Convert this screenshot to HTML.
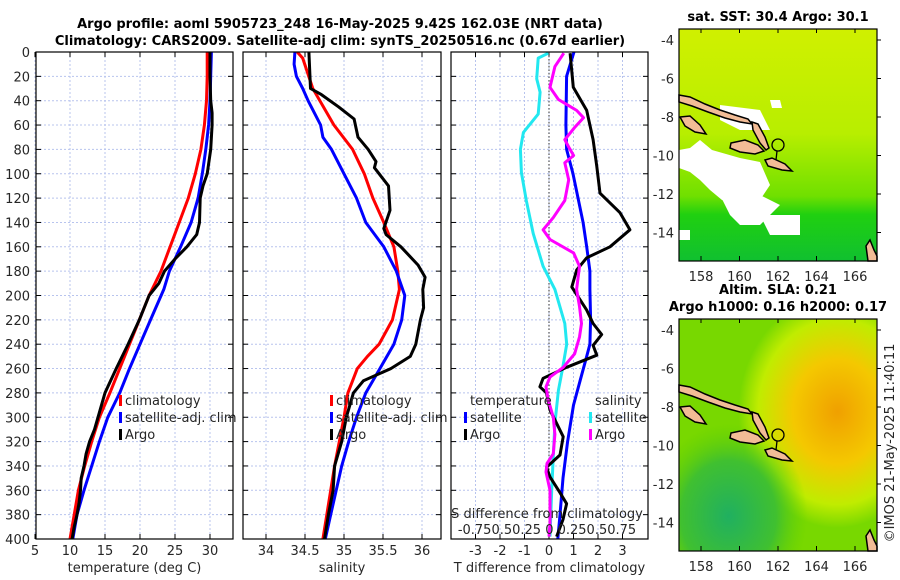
<!DOCTYPE html>
<html><head><meta charset="utf-8">
<style>
body{margin:0;background:#fff;}
svg{display:block;font-family:"DejaVu Sans","Liberation Sans",sans-serif;}
.tk{font-size:13px;fill:#262626;}
.ttl{font-size:13px;font-weight:bold;fill:#000;}
.lg{font-size:13px;fill:#262626;}
</style></head>
<body>
<svg id="fig" width="900" height="580" viewBox="0 0 900 580" xmlns="http://www.w3.org/2000/svg">
<defs>
  <linearGradient id="sstg" x1="0" y1="0" x2="0" y2="1">
    <stop offset="0" stop-color="#d0f000"/>
    <stop offset="0.45" stop-color="#b8ee00"/>
    <stop offset="0.72" stop-color="#70e000"/>
    <stop offset="0.8" stop-color="#20d010"/>
    <stop offset="1" stop-color="#10c030"/>
  </linearGradient>
  <radialGradient id="slao" cx="0.8" cy="0.4" r="0.5">
    <stop offset="0" stop-color="#f0a000"/>
    <stop offset="0.45" stop-color="#f4c800"/>
    <stop offset="0.8" stop-color="#c0ec00"/>
    <stop offset="1" stop-color="#c0ec00" stop-opacity="0"/>
  </radialGradient>
  <radialGradient id="slag" cx="0.25" cy="0.85" r="0.4">
    <stop offset="0" stop-color="#20b060"/>
    <stop offset="0.6" stop-color="#40c030"/>
    <stop offset="1" stop-color="#60d000" stop-opacity="0"/>
  </radialGradient>
  <clipPath id="c1"><rect x="36" y="52" width="197" height="487"/></clipPath>
  <clipPath id="c2"><rect x="243" y="52" width="198" height="487"/></clipPath>
  <clipPath id="c3"><rect x="451" y="52" width="197" height="487"/></clipPath>
</defs>
<text class="ttl" x="340" y="28" text-anchor="middle">Argo profile: aoml 5905723_248 16-May-2025 9.42S 162.03E (NRT data)</text>
<text class="ttl" x="340" y="45" text-anchor="middle">Climatology: CARS2009. Satellite-adj clim: synTS_20250516.nc (0.67d earlier)</text>
<g id="panels"></g>
<g id="maps"></g>
<text class="tk" x="0" y="0" transform="translate(894,443) rotate(-90)" text-anchor="middle">©IMOS 21-May-2025 11:40:11</text>
</svg>
<script>
// ---- data ----
const tDepth = [0,20,40,60,80,100,120,140,160,180,200,220,240,260,280,300,320,340,360,380,400];
const tClim  = [29.6,29.6,29.5,29.2,28.7,27.9,26.9,25.6,24.3,23.0,21.3,19.9,18.5,17.1,15.7,14.2,13.1,12.1,11.2,10.6,10.0];
const tSatD  = [0,20,40,60,80,100,120,140,160,180,195,220,240,260,280,300,320,340,360,380,400];
const tSat   = [30.2,30.1,30.0,29.8,29.4,28.9,28.3,27.3,25.8,24.2,23.4,21.5,20.0,18.5,17.1,15.4,14.2,13.1,12.0,11.0,10.4];
const tArgoD = [0,20,40,50,60,80,100,110,120,140,150,160,170,180,190,200,220,240,260,270,280,290,300,310,320,330,340,350,360,370,380,390,400];
const tArgo  = [30.0,30.0,30.1,30.3,30.3,30.1,29.6,29.0,28.6,28.5,28.1,26.7,25.0,23.5,22.7,21.3,19.9,18.3,16.6,15.8,15.0,14.5,14.0,13.5,12.8,12.3,12.0,11.6,11.5,11.3,11.0,10.6,10.3];

const sClimD = [0,5,30,60,80,100,120,140,160,180,195,220,240,250,260,280,300,320,340,360,380,400];
const sClim  = [34.40,34.47,34.60,34.87,35.11,35.26,35.37,35.51,35.64,35.69,35.71,35.62,35.45,35.30,35.17,35.05,35.00,34.94,34.88,34.83,34.78,34.73];
const sSatD  = [0,10,20,30,40,50,60,70,80,100,120,140,160,180,200,220,240,260,280,300,320,340,360,380,400];
const sSat   = [34.37,34.36,34.39,34.47,34.54,34.62,34.70,34.73,34.84,35.00,35.16,35.28,35.51,35.67,35.78,35.74,35.64,35.46,35.28,35.16,35.06,34.97,34.90,34.83,34.76];
const sArgoD = [0,30,35,45,55,70,80,90,95,110,130,145,150,160,175,185,195,210,220,240,250,260,270,280,300,320,340,360,380,400];
const sArgo  = [34.55,34.57,34.71,34.93,35.13,35.18,35.31,35.41,35.39,35.57,35.59,35.51,35.54,35.73,35.95,36.04,36.01,36.02,35.98,35.92,35.85,35.60,35.25,35.12,35.03,34.97,34.88,34.86,34.80,34.75];

const dtSatD = [0,20,60,80,100,140,160,180,195,219,240,250,270,290,320,350,380,400];
const dtSat  = [1.02,0.72,0.69,0.72,0.98,1.39,1.54,1.67,1.67,1.70,1.67,1.54,1.27,1.0,0.76,0.57,0.45,0.36];
const dtArgoD = [1,29,48,72,94,116,132,146,160,169,179,193,212,223,232,241,249,259,268,275,280,294,316,331,341,349,362,371,384,398];
const dtArgo  = [0.86,0.99,1.54,1.8,1.95,2.08,2.9,3.3,2.49,1.54,1.13,0.93,1.54,1.8,2.15,1.8,1.95,0.72,-0.24,-0.37,-0.1,0.04,0.58,0.45,-0.1,0.04,0.45,0.72,0.57,0.31];
const dsSatD = [1,5,22,33,51,66,80,99,122,149,176,195,223,240,259,278,305,332,360,398];
const dsSat  = [-0.007,-0.11,-0.125,-0.09,-0.11,-0.26,-0.29,-0.28,-0.23,-0.16,-0.06,0.06,0.16,0.18,0.14,0.095,0.06,0.044,0.027,0.01];
const dsArgoD = [1,12,29,39,43,48,54,62,72,78,85,91,105,122,136,146,154,165,176,195,209,223,234,248,259,267,275,286,300,314,330,338,345,360,387,398];
const dsArgo  = [0.15,0.06,0.01,0.095,0.18,0.28,0.35,0.26,0.16,0.2,0.25,0.16,0.2,0.16,0.044,-0.06,0.01,0.25,0.31,0.28,0.31,0.33,0.31,0.26,0.145,0.01,-0.03,-0.007,0.044,0.06,0.044,-0.02,-0.03,0.01,0.01,0.0];

const depthTicks = [0,20,40,60,80,100,120,140,160,180,200,220,240,260,280,300,320,340,360,380,400];
const tTicks = [5,10,15,20,25,30];
const sTicks = [34,34.5,35,35.5,36];
const dtTicks = [-3,-2,-1,0,1,2,3];
const dsTickLabel = "-0.750.50.25 0 0.250.50.75";
const lonTicks = [158,160,162,164,166];
const latTicks = [-4,-6,-8,-10,-12,-14];

// ---- axes ----
const Y = d => 52 + d*1.2175;
const XT = t => 35 + (t-5)*7;
const XS = s => 266 + (s-34)*78;
const XDT = t => 549 + t*24.5;
const XDS = s => 549 + s*98.5;
const LON = l => 701 + (l-158)*19.25;
const LAT = (a, top) => top + 11 + (-4 - a)*19.25;

const NS = "http://www.w3.org/2000/svg";
function mk(tag, attrs, parent){ const e=document.createElementNS(NS,tag); for(const k in attrs) e.setAttribute(k,attrs[k]); parent.appendChild(e); return e; }
const panelsG = document.getElementById('panels');

function line(depths, vals, xf, color, parent, name){
  const pts = depths.map((d,i)=> xf(vals[i]).toFixed(1)+','+Y(d).toFixed(1)).join(' ');
  const p = mk('polyline',{points:pts,fill:'none',stroke:color,'stroke-width':3,'stroke-linejoin':'round'},parent);
  
  
}

function panel(x0, w, clip, name, ticks, xf, tickLabels, xlabel){
  const g = mk('g',{},panelsG);
  
  
  mk('rect',{x:x0,y:52,width:w,height:487,fill:'#fff'},g);
  ticks.forEach(t=>{ mk('line',{x1:xf(t),x2:xf(t),y1:52,y2:539,stroke:'#b8c4ee','stroke-width':1,'stroke-dasharray':'2,2'},g); });
  depthTicks.forEach(d=>{ mk('line',{x1:x0,x2:x0+w,y1:Y(d),y2:Y(d),stroke:'#b8c4ee','stroke-width':1,'stroke-dasharray':'2,2'},g);
    mk('line',{x1:x0,x2:x0+5,y1:Y(d),y2:Y(d),stroke:'#000'},g);
    mk('line',{x1:x0+w-5,x2:x0+w,y1:Y(d),y2:Y(d),stroke:'#000'},g); });
  ticks.forEach((t,i)=>{ mk('line',{x1:xf(t),x2:xf(t),y1:52,y2:57,stroke:'#000'},g); mk('line',{x1:xf(t),x2:xf(t),y1:534,y2:539,stroke:'#000'},g);
    const tx = mk('text',{x:xf(t),y:555,'text-anchor':'middle',class:'tk'},g); tx.textContent = tickLabels[i];
    
     });
  const xl = mk('text',{x:x0+w/2,y:572,'text-anchor':'middle',class:'tk'},g); xl.textContent = xlabel;
  
  
  return g;
}
function frame(x0,w,g){ mk('rect',{x:x0,y:52,width:w,height:487,fill:'none',stroke:'#000','stroke-width':1.2},g); }
function legend(g, x, y, color, label, name){
  mk('rect',{x:x,y:y-10,width:3,height:11,fill:color},g);
  const t = mk('text',{x:x+6,y:y,class:'lg'},g); t.textContent = label;
  
  
}

// panel 1
let g1 = panel(36,197,'c1','temperature-panel',tTicks,XT,tTicks.map(String),'temperature (deg C)');
depthTicks.forEach(d=>{ const t=mk('text',{x:30,y:Y(d)+5,'text-anchor':'end',class:'tk'},g1); t.textContent=d;
  
   });
let lg1 = mk('g',{'clip-path':'url(#c1)'},g1);
line(tDepth,tClim,XT,'#ff0000',lg1,'temp-climatology-line');
line(tSatD,tSat,XT,'#0000ff',lg1,'temp-satellite-line');
line(tArgoD,tArgo,XT,'#000',lg1,'temp-argo-line');
legend(g1,119,405,'#ff0000','climatology','legend-climatology');
legend(g1,119,422,'#0000ff','satellite-adj. clim','legend-satellite');
legend(g1,119,439,'#000','Argo','legend-argo');
frame(36,197,g1);

// panel 2
let g2 = panel(243,198,'c2','salinity-panel',sTicks,XS,['34','34.5','35','35.5','36'],'salinity');
let lg2 = mk('g',{'clip-path':'url(#c2)'},g2);
line(sClimD,sClim,XS,'#ff0000',lg2,'sal-climatology-line');
line(sSatD,sSat,XS,'#0000ff',lg2,'sal-satellite-line');
line(sArgoD,sArgo,XS,'#000',lg2,'sal-argo-line');
legend(g2,330,405,'#ff0000','climatology','legend-climatology');
legend(g2,330,422,'#0000ff','satellite-adj. clim','legend-satellite');
legend(g2,330,439,'#000','Argo','legend-argo');
frame(243,198,g2);

// panel 3
let g3 = panel(451,197,'c3','difference-panel',dtTicks,XDT,dtTicks.map(String),'T difference from climatology');
mk('line',{x1:549,x2:549,y1:52,y2:539,stroke:'#555','stroke-width':1.2,'stroke-dasharray':'1.5,2'},g3);
let lg3 = mk('g',{'clip-path':'url(#c3)'},g3);
line(dsSatD,dsSat,XDS,'#22e8f0',lg3,'sdiff-satellite-line');
line(dtSatD,dtSat,XDT,'#0000ff',lg3,'tdiff-satellite-line');
line(dtArgoD,dtArgo,XDT,'#000',lg3,'tdiff-argo-line');
line(dsArgoD,dsArgo,XDS,'#ff00ff',lg3,'sdiff-argo-line');
let tt = mk('text',{x:470,y:405,class:'lg'},g3); tt.textContent='temperature';


let st = mk('text',{x:595,y:405,class:'lg'},g3); st.textContent='salinity';


legend(g3,464,422,'#0000ff','satellite','legend-t-satellite');
legend(g3,464,439,'#000','Argo','legend-t-argo');
legend(g3,589,422,'#22e8f0','satellite','legend-s-satellite');
legend(g3,589,439,'#ff00ff','Argo','legend-s-argo');
let sd = mk('text',{x:547,y:518,'text-anchor':'middle',class:'lg'},g3); sd.textContent='S difference from climatology';


let sl = mk('text',{x:547,y:534,'text-anchor':'middle',class:'lg'},g3); sl.textContent=dsTickLabel;


frame(451,197,g3);

// ---- maps ----
const mapsG = document.getElementById('maps');
const islands = [
 [[679,95],[690,97],[705,104],[720,110],[735,115],[748,119],[752,124],[740,122],[725,118],[708,112],[692,106],[679,102]],
 [[731,143],[745,140],[758,145],[764,151],[755,154],[740,152],[730,148]],
 [[752,122],[758,124],[765,137],[769,148],[766,150],[760,143],[753,130]],
 [[765,160],[772,158],[785,164],[792,171],[782,170],[768,166]],
 [[680,117],[690,116],[700,125],[706,134],[695,132],[685,126]],
 [[866,246],[870,240],[874,250],[877,256],[877,261],[868,261]]
];
function map(top, title, name, fill){
  const g = mk('g',{},mapsG);
  
  
  mk('rect',{x:679,y:top,width:198,height:232,fill:'#fff'},g);
  fill(g, top);
  islands.forEach(pl=>{ mk('polygon',{points:pl.map(p=>p[0]+','+(p[1]-29+top)).join(' '),fill:'#f2bc96',stroke:'#000','stroke-width':1.5},g); });
  mk('circle',{cx:778,cy:top+116,r:6,fill:'none',stroke:'#000','stroke-width':1.3},g);
  mk('line',{x1:777,y1:top+122,x2:776,y2:top+131,stroke:'#000','stroke-width':1.3},g);
  mk('rect',{x:679,y:top,width:198,height:232,fill:'none',stroke:'#000','stroke-width':1.2},g);
  lonTicks.forEach(l=>{ mk('line',{x1:LON(l),x2:LON(l),y1:top+232,y2:top+227,stroke:'#000'},g);
    mk('line',{x1:LON(l),x2:LON(l),y1:top,y2:top+4,stroke:'#000'},g);
    const t=mk('text',{x:LON(l),y:top+252,'text-anchor':'middle',class:'tk'},g); t.textContent=l;
    
     });
  latTicks.forEach(a=>{ const yy=LAT(a,top); mk('line',{x1:877,x2:881,y1:yy,y2:yy,stroke:'#000'},g);
    const t=mk('text',{x:674,y:yy+5,'text-anchor':'end',class:'tk'},g); t.textContent=a;
    
     });
  title.forEach((s,i)=>{ const t=mk('text',{x:778,y:top-8-(title.length-1-i)*17,'text-anchor':'middle',class:'ttl'},g); t.textContent=s;
    
     });
}
map(29,['sat. SST: 30.4 Argo: 30.1'],'sst-map',(g,top)=>{
  mk('rect',{x:679,y:top,width:198,height:232,fill:'url(#sstg)'},g);
  const whites=[[[679,150],[690,148],[700,140],[712,150],[740,158],[760,162],[770,185],[760,200],[740,205],[722,200],[710,190],[700,180],[690,172],[679,168]],
   [[720,195],[760,195],[780,205],[760,225],[740,225],[730,215]],
   [[760,215],[800,215],[800,235],[770,235]],[[679,230],[690,230],[690,240],[679,240]],
   [[720,105],[760,110],[770,130],[740,130],[720,120]],[[770,100],[780,100],[782,108],[772,108]]];
  whites.forEach(pl=>mk('polygon',{points:pl.map(p=>p[0]+','+p[1]).join(' '),fill:'#fff'},g));
});
map(319,['Altim. SLA: 0.21','Argo h1000: 0.16 h2000: 0.17'],'sla-map',(g,top)=>{
  mk('rect',{x:679,y:top,width:198,height:232,fill:'#78d800'},g);
  mk('rect',{x:679,y:top,width:198,height:232,fill:'url(#slao)'},g);
  mk('rect',{x:679,y:top,width:198,height:232,fill:'url(#slag)'},g);
});
</script>
</body></html>
